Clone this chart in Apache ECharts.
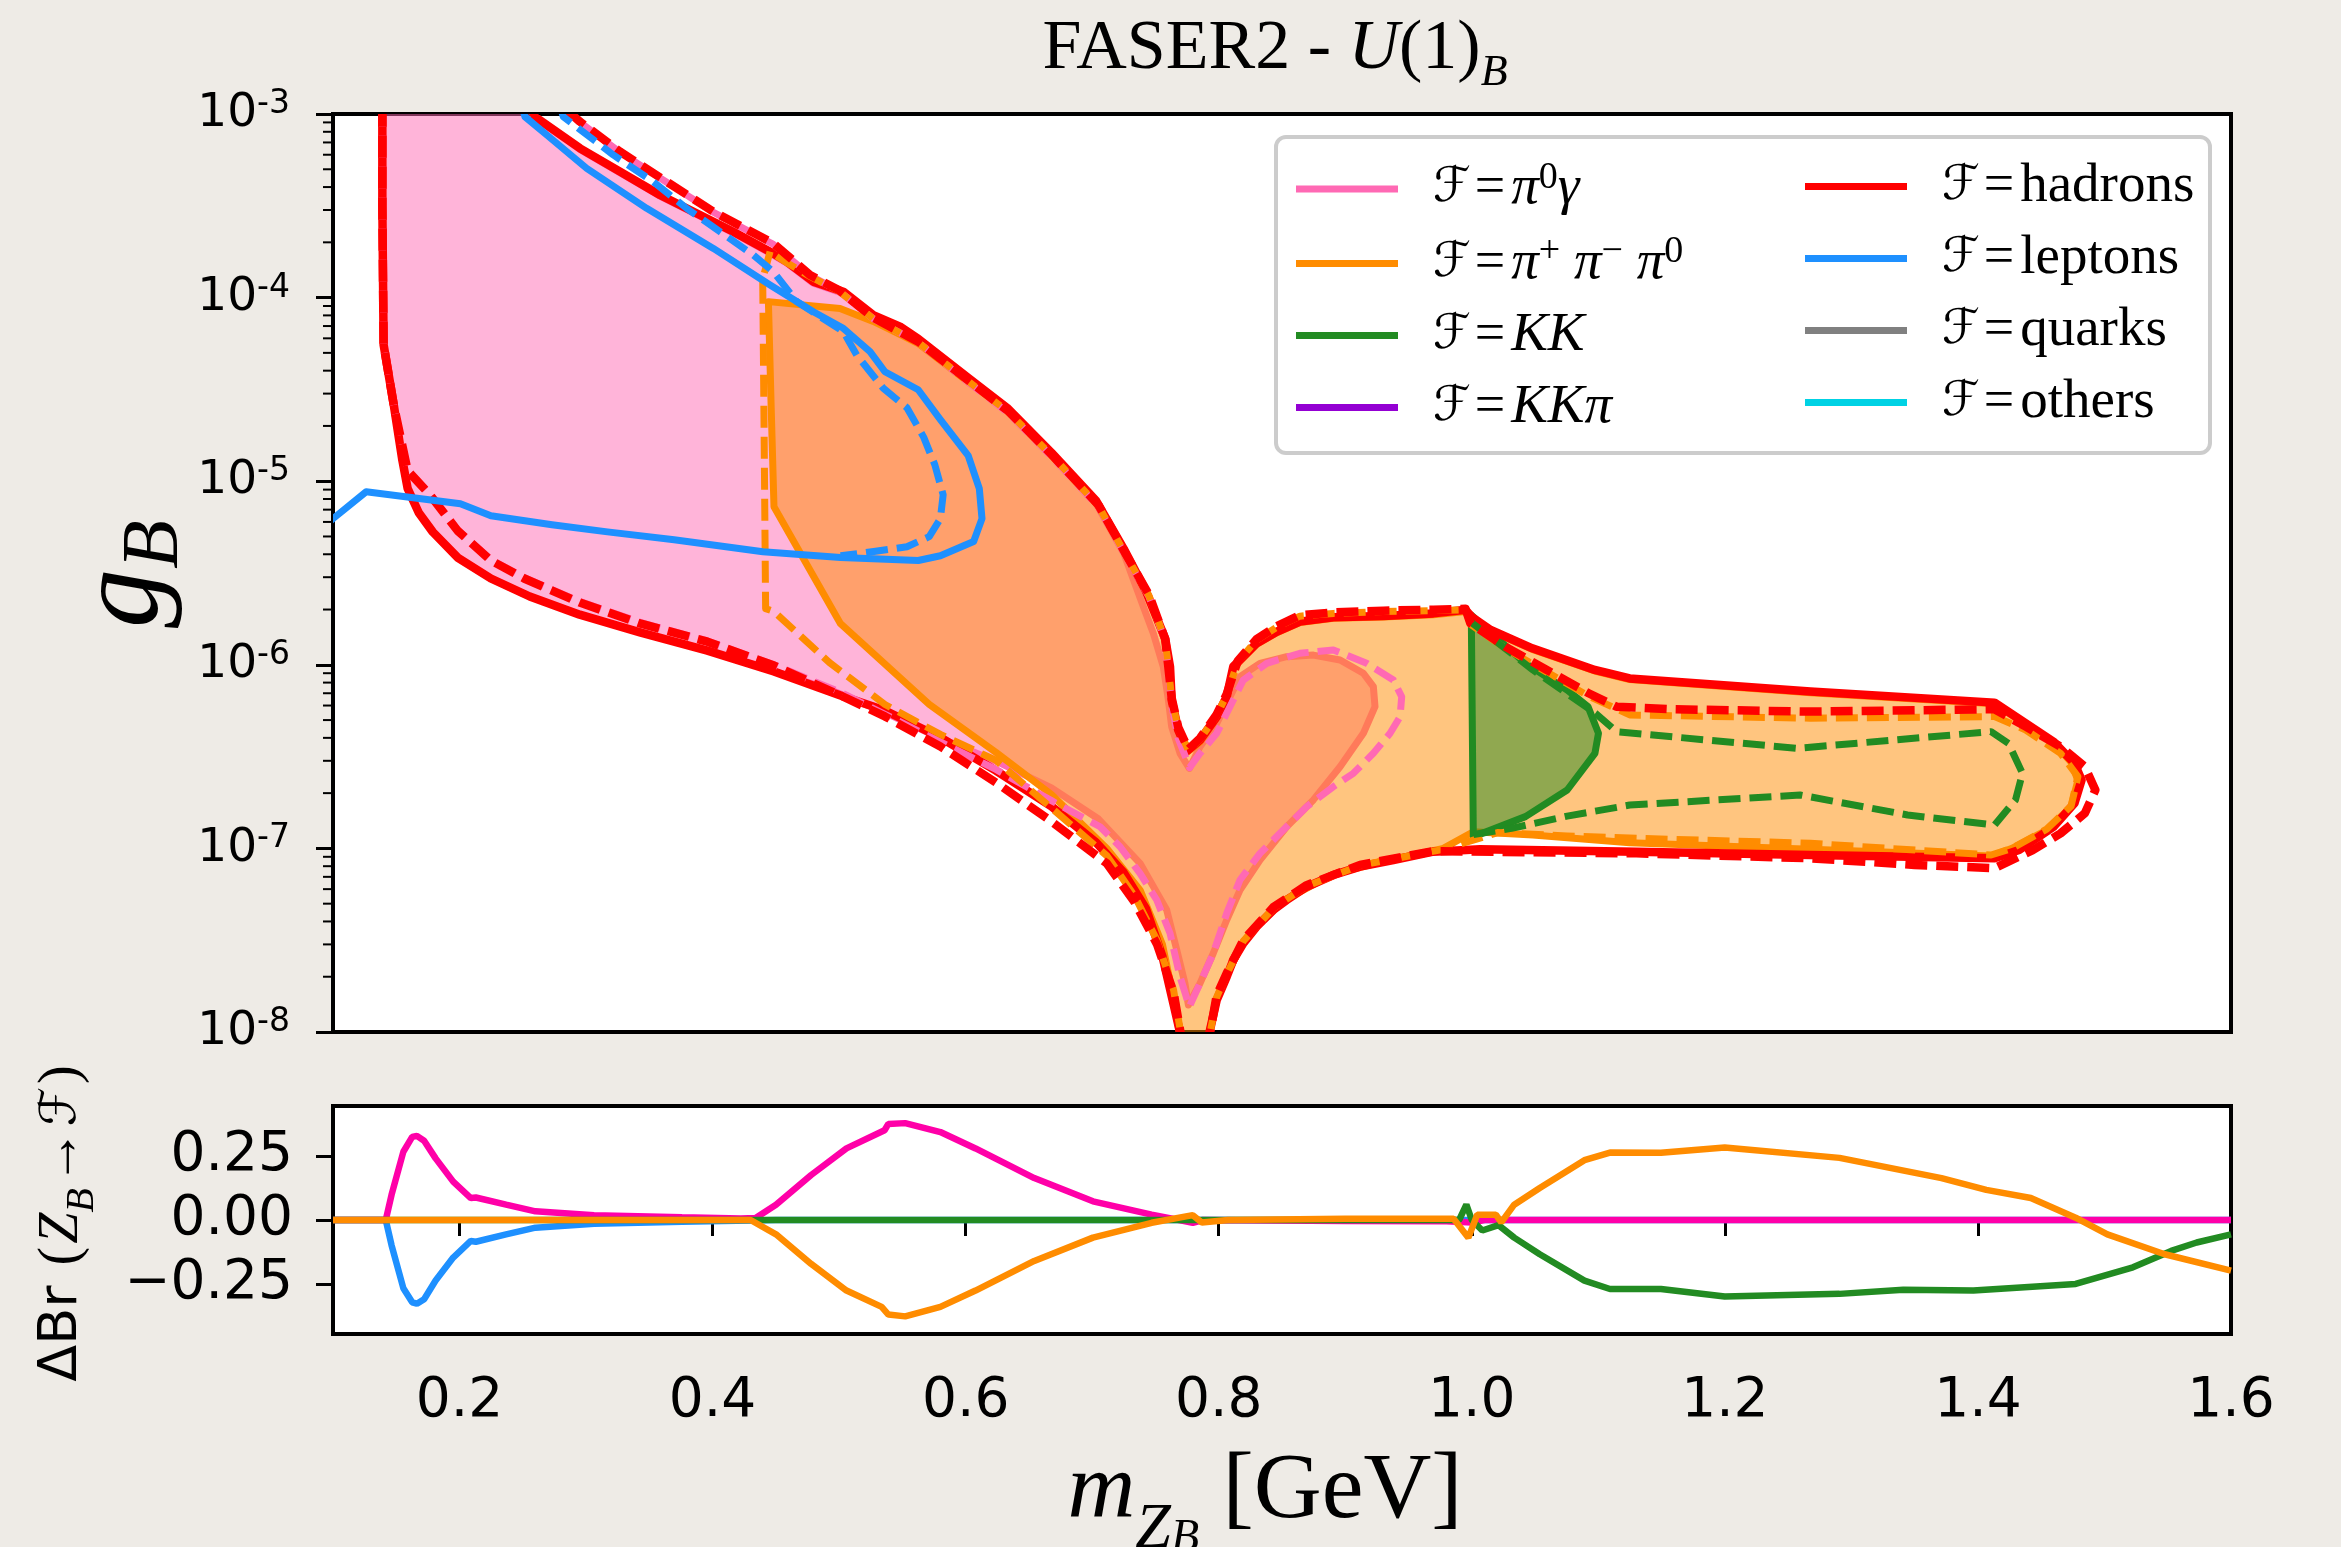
<!DOCTYPE html>
<html>
<head>
<meta charset="utf-8">
<script src="https://cdn.jsdelivr.net/npm/echarts@6.0.0/dist/echarts.min.js"></script>
<style>
html,body{margin:0;padding:0;background:#EEEBE6;}
#chart{width:2341px;height:1547px;}
</style>
</head>
<body>
<div id="chart"></div>
<script>
// ---------------- axis ticks ----------------
const massTicks = [0.2, 0.4, 0.6, 0.8, 1.0, 1.2, 1.4, 1.6];
const dBrTicks = [-0.25, 0, 0.25];

// ---------------- main panel contours: [m_ZB (GeV), log10 g_B] ----------------
const hadronsSolid = [[0.139,-2.95],[0.139,-3.5],[0.140,-4.257],[0.148,-4.584],[0.1546,-4.877],[0.159,-5.04],[0.1678,-5.172],[0.1788,-5.276],[0.1985,-5.416],[0.2248,-5.53],[0.2555,-5.628],[0.295,-5.727],[0.3433,-5.825],[0.3959,-5.923],[0.4485,-6.036],[0.5011,-6.167],[0.5362,-6.249],[0.58,-6.396],[0.6239,-6.576],[0.6678,-6.771],[0.703,-6.967],[0.7248,-7.131],[0.7424,-7.327],[0.7555,-7.588],[0.7643,-7.849],[0.771,-8.05],[0.791,-8.05],[0.7931,-7.989],[0.7984,-7.826],[0.8063,-7.699],[0.8115,-7.608],[0.8194,-7.517],[0.83,-7.426],[0.8432,-7.335],[0.8537,-7.281],[0.8695,-7.209],[0.8906,-7.145],[0.9117,-7.099],[0.938,-7.063],[0.9696,-7.018],[1.0065,-7.005],[1.13,-7.018],[1.2677,-7.036],[1.4131,-7.054],[1.4325,-7.009],[1.4598,-6.882],[1.4763,-6.754],[1.4819,-6.627],[1.4763,-6.537],[1.4598,-6.419],[1.4378,-6.319],[1.4131,-6.206],[1.2677,-6.146],[1.1248,-6.074],[1.0972,-6.028],[1.0478,-5.91],[1.0149,-5.81],[1.0,-5.74],[0.995,-5.70],[0.9696,-5.72],[0.9301,-5.734],[0.8906,-5.741],[0.8642,-5.765],[0.8458,-5.82],[0.83,-5.883],[0.8115,-6.01],[0.8063,-6.174],[0.7984,-6.283],[0.7852,-6.41],[0.7752,-6.468],[0.768,-6.355],[0.7628,-6.192],[0.7615,-6.01],[0.7577,-5.857],[0.7423,-5.596],[0.7248,-5.367],[0.703,-5.106],[0.6678,-4.845],[0.6327,-4.6],[0.602,-4.437],[0.5625,-4.224],[0.5481,-4.158],[0.527,-4.095],[0.5033,-3.968],[0.4796,-3.913],[0.4586,-3.804],[0.4454,-3.75],[0.4164,-3.641],[0.39,-3.55],[0.3584,-3.441],[0.3268,-3.314],[0.2952,-3.187],[0.2596,-3.015],[0.256,-2.95]];

const hadronsDashed = [[0.139,-2.95],[0.139,-3.5],[0.140,-4.257],[0.148,-4.584],[0.159,-4.943],[0.1766,-5.074],[0.1985,-5.27],[0.2248,-5.432],[0.2511,-5.53],[0.295,-5.661],[0.3433,-5.776],[0.3959,-5.874],[0.4485,-6.004],[0.5011,-6.167],[0.5362,-6.281],[0.58,-6.445],[0.6239,-6.641],[0.6678,-6.853],[0.7116,-7.082],[0.7336,-7.294],[0.7512,-7.522],[0.7643,-7.784],[0.771,-8.05],[0.792,-8.05],[0.7984,-7.80],[0.8063,-7.68],[0.8194,-7.50],[0.8432,-7.32],[0.8695,-7.20],[0.9117,-7.09],[0.9696,-7.015],[1.13,-7.027],[1.2677,-7.054],[1.3499,-7.09],[1.4131,-7.108],[1.4433,-7.009],[1.4653,-6.918],[1.4845,-6.809],[1.4928,-6.682],[1.4845,-6.555],[1.4653,-6.446],[1.4378,-6.337],[1.4131,-6.242],[1.2677,-6.255],[1.1582,-6.242],[1.1143,-6.228],[1.0923,-6.155],[1.0593,-6.028],[1.0264,-5.901],[0.9989,-5.774],[0.995,-5.695],[0.9696,-5.70],[0.93,-5.705],[0.8906,-5.715],[0.8642,-5.73],[0.8458,-5.79],[0.83,-5.86],[0.815,-5.98],[0.8063,-6.16],[0.7984,-6.27],[0.7852,-6.40],[0.776,-6.46],[0.768,-6.34],[0.7628,-6.18],[0.76,-6.0],[0.7577,-5.86],[0.745,-5.62],[0.726,-5.39],[0.705,-5.13],[0.67,-4.87],[0.634,-4.62],[0.6,-4.44],[0.5625,-4.24],[0.527,-4.11],[0.5,-3.96],[0.477,-3.877],[0.448,-3.705],[0.4006,-3.532],[0.3637,-3.369],[0.3268,-3.205],[0.2952,-3.042],[0.28,-2.95]];

const pi0gSolid = [[0.139,-2.95],[0.139,-3.5],[0.140,-4.257],[0.148,-4.584],[0.1546,-4.877],[0.159,-5.04],[0.1678,-5.172],[0.1788,-5.276],[0.1985,-5.416],[0.2248,-5.53],[0.2555,-5.628],[0.295,-5.727],[0.3433,-5.825],[0.3959,-5.923],[0.4485,-6.036],[0.4924,-6.134],[0.5362,-6.26],[0.58,-6.40],[0.6239,-6.525],[0.6678,-6.67],[0.705,-6.84],[0.7378,-7.081],[0.7589,-7.336],[0.7668,-7.553],[0.7733,-7.735],[0.776,-7.853],[0.7852,-7.735],[0.7957,-7.571],[0.8063,-7.39],[0.8168,-7.227],[0.8326,-7.063],[0.8537,-6.882],[0.8748,-6.736],[0.8959,-6.555],[0.9143,-6.373],[0.9235,-6.228],[0.9222,-6.119],[0.9143,-6.046],[0.8959,-5.974],[0.8748,-5.947],[0.8537,-5.956],[0.8326,-5.992],[0.8168,-6.065],[0.8089,-6.174],[0.7984,-6.319],[0.7852,-6.446],[0.7768,-6.564],[0.7694,-6.482],[0.7628,-6.337],[0.7602,-6.192],[0.7562,-6.01],[0.7483,-5.828],[0.7404,-5.683],[0.7248,-5.39],[0.703,-5.12],[0.6678,-4.86],[0.6327,-4.615],[0.602,-4.45],[0.5625,-4.235],[0.527,-4.105],[0.5033,-3.978],[0.4796,-3.922],[0.4586,-3.812],[0.4454,-3.758],[0.4164,-3.648],[0.39,-3.556],[0.3584,-3.447],[0.3268,-3.32],[0.2952,-3.193],[0.2596,-3.02],[0.255,-2.95]];

const pi0gDashed = [[0.139,-2.95],[0.139,-3.5],[0.140,-4.257],[0.148,-4.584],[0.159,-4.94],[0.1766,-5.07],[0.1985,-5.265],[0.2248,-5.427],[0.2511,-5.525],[0.295,-5.655],[0.3433,-5.77],[0.3959,-5.87],[0.4485,-6.0],[0.5011,-6.15],[0.5362,-6.27],[0.58,-6.42],[0.6239,-6.57],[0.6678,-6.74],[0.7062,-6.882],[0.722,-6.991],[0.7378,-7.136],[0.751,-7.281],[0.7615,-7.462],[0.7694,-7.699],[0.7768,-7.862],[0.7852,-7.735],[0.7957,-7.571],[0.8063,-7.354],[0.8168,-7.172],[0.8326,-7.027],[0.8484,-6.918],[0.8695,-6.773],[0.8906,-6.664],[0.9064,-6.591],[0.9222,-6.482],[0.9354,-6.373],[0.9433,-6.283],[0.9446,-6.174],[0.938,-6.083],[0.9169,-5.992],[0.8906,-5.919],[0.8642,-5.937],[0.8379,-5.992],[0.8194,-6.083],[0.8115,-6.192],[0.7984,-6.373],[0.7852,-6.482],[0.777,-6.56],[0.768,-6.40],[0.7628,-6.22],[0.76,-6.02],[0.7577,-5.87],[0.745,-5.63],[0.726,-5.40],[0.705,-5.14],[0.67,-4.88],[0.634,-4.63],[0.6,-4.45],[0.5625,-4.245],[0.527,-4.115],[0.5,-3.965],[0.477,-3.88],[0.448,-3.71],[0.4006,-3.535],[0.3637,-3.372],[0.3268,-3.208],[0.2952,-3.045],[0.28,-2.95]];

const pipipi0Solid = [[0.4441,-4.022],[0.4463,-4.6],[0.4485,-5.139],[0.5011,-5.776],[0.5712,-6.216],[0.6239,-6.477],[0.6678,-6.706],[0.7116,-7.0],[0.738,-7.229],[0.7555,-7.522],[0.7643,-7.816],[0.77,-8.05],[0.792,-8.05],[0.7931,-7.98],[0.7984,-7.82],[0.8063,-7.69],[0.8194,-7.51],[0.83,-7.42],[0.8537,-7.275],[0.8906,-7.14],[0.938,-7.058],[0.9775,-7.0],[1.0012,-6.909],[1.0483,-6.927],[1.1248,-6.969],[1.2677,-7.005],[1.4104,-7.041],[1.4269,-7.0],[1.4543,-6.9],[1.4736,-6.773],[1.479,-6.63],[1.4736,-6.53],[1.4598,-6.425],[1.4378,-6.325],[1.4131,-6.212],[1.2677,-6.152],[1.1248,-6.08],[1.0972,-6.034],[1.0478,-5.916],[1.0149,-5.816],[1.0,-5.745],[0.995,-5.71],[0.9696,-5.728],[0.9301,-5.739],[0.8906,-5.746],[0.8642,-5.77],[0.8458,-5.825],[0.83,-5.888],[0.8115,-6.015],[0.8063,-6.18],[0.7984,-6.29],[0.7852,-6.42],[0.7752,-6.475],[0.768,-6.36],[0.7628,-6.2],[0.7615,-6.015],[0.7577,-5.862],[0.7423,-5.6],[0.7248,-5.372],[0.703,-5.11],[0.6678,-4.85],[0.6327,-4.61],[0.602,-4.46],[0.5625,-4.25],[0.548,-4.2],[0.527,-4.13],[0.5007,-4.059]];

const pipipi0Dashed = [[0.4454,-3.75],[0.4396,-3.9],[0.4408,-4.8],[0.4419,-5.694],[0.4485,-5.71],[0.4924,-5.988],[0.5362,-6.216],[0.58,-6.379],[0.6239,-6.52],[0.6678,-6.78],[0.7116,-7.04],[0.7336,-7.26],[0.7512,-7.5],[0.7643,-7.77],[0.771,-8.05],[0.792,-8.05],[0.7984,-7.81],[0.8063,-7.685],[0.8194,-7.505],[0.8432,-7.325],[0.8695,-7.205],[0.9117,-7.093],[0.9775,-7.005],[1.0204,-6.914],[1.0754,-6.932],[1.1303,-6.945],[1.2677,-6.972],[1.4104,-7.036],[1.4269,-7.0],[1.4543,-6.895],[1.4736,-6.77],[1.479,-6.609],[1.4653,-6.482],[1.4378,-6.355],[1.4131,-6.282],[1.2677,-6.291],[1.1248,-6.273],[1.0923,-6.17],[1.0593,-6.04],[1.0264,-5.91],[0.999,-5.78],[0.995,-5.70],[0.9696,-5.705],[0.93,-5.71],[0.8906,-5.72],[0.8642,-5.735],[0.8458,-5.795],[0.83,-5.865],[0.815,-5.985],[0.8063,-6.165],[0.7984,-6.275],[0.7852,-6.405],[0.776,-6.465],[0.768,-6.345],[0.7628,-6.185],[0.76,-6.005],[0.7577,-5.865],[0.745,-5.625],[0.726,-5.395],[0.705,-5.135],[0.67,-4.875],[0.634,-4.625],[0.6,-4.445],[0.5625,-4.245],[0.527,-4.115],[0.5,-3.965],[0.477,-3.885],[0.4586,-3.81]];

const KKSolid = [[0.9996,-5.729],[1.0095,-5.792],[1.0424,-5.992],[1.0754,-6.137],[1.0919,-6.228],[1.1001,-6.373],[1.0973,-6.482],[1.0754,-6.682],[1.0424,-6.827],[1.0012,-6.936]];

const KKDashed = [[0.9989,-5.765],[1.0483,-6.028],[1.0978,-6.264],[1.1143,-6.364],[1.2572,-6.455],[1.4104,-6.364],[1.4242,-6.428],[1.4352,-6.591],[1.4297,-6.736],[1.4131,-6.873],[1.3444,-6.818],[1.2594,-6.709],[1.1248,-6.764],[1.0754,-6.824],[1.0314,-6.891],[0.9989,-6.927]];

const leptonsSolid = [[0.095,-5.235],[0.1,-5.204],[0.1262,-5.057],[0.2007,-5.123],[0.2248,-5.188],[0.2731,-5.237],[0.3169,-5.276],[0.3696,-5.319],[0.4398,-5.384],[0.5011,-5.416],[0.5625,-5.432],[0.58,-5.406],[0.6063,-5.328],[0.6129,-5.204],[0.6108,-5.041],[0.602,-4.861],[0.58,-4.665],[0.5625,-4.502],[0.5362,-4.404],[0.5244,-4.294],[0.5033,-4.167],[0.4796,-4.077],[0.4454,-3.931],[0.4006,-3.732],[0.3479,-3.514],[0.3005,-3.296],[0.2689,-3.114],[0.2517,-3.015],[0.249,-2.95]];

const leptonsDashed = [[0.279,-2.95],[0.282,-3.015],[0.3215,-3.223],[0.3531,-3.369],[0.3795,-3.514],[0.4058,-3.641],[0.4322,-3.768],[0.448,-3.859],[0.4665,-4.022],[0.5033,-4.185],[0.5139,-4.313],[0.5349,-4.494],[0.5536,-4.60],[0.5668,-4.76],[0.5756,-4.91],[0.5822,-5.074],[0.58,-5.204],[0.5712,-5.302],[0.5536,-5.357],[0.5274,-5.383],[0.5011,-5.406]];

// ---------------- lower panel: Delta Br(Z_B -> F) ----------------
const dBrPi0g = [[0.1,0],[0.1417,0],[0.1463,0.099],[0.1556,0.267],[0.1626,0.325],[0.1663,0.329],[0.172,0.31],[0.1811,0.241],[0.195,0.15],[0.2089,0.086],[0.2129,0.088],[0.2368,0.06],[0.26,0.034],[0.3063,0.019],[0.3758,0.011],[0.4223,0.006],[0.434,0.008],[0.4501,0.06],[0.4779,0.176],[0.5058,0.28],[0.5359,0.351],[0.5389,0.376],[0.5522,0.379],[0.58,0.344],[0.6078,0.28],[0.6542,0.164],[0.7006,0.073],[0.747,0.021],[0.7795,-0.011],[0.7875,0.0],[0.9,-0.004],[0.98,-0.005],[1.0,-0.01],[1.01,0],[1.6,0]];
const dBrLeptons = [[0.1,0],[0.1417,0],[0.1463,-0.099],[0.1556,-0.267],[0.1626,-0.322],[0.1663,-0.3275],[0.172,-0.31],[0.1811,-0.237],[0.195,-0.147],[0.2089,-0.082],[0.2129,-0.085],[0.2368,-0.056],[0.26,-0.03],[0.3063,-0.015],[0.3758,-0.007],[0.43,-0.002],[0.45,0],[1.6,0]];
const dBrKK = [[0.1,0],[0.43,0],[0.98,0],[0.99,0.0],[0.9957,0.06],[1.0,0.0],[1.0083,-0.041],[1.0211,-0.02],[1.0335,-0.069],[1.0537,-0.134],[1.089,-0.237],[1.1092,-0.27],[1.1495,-0.27],[1.1999,-0.299],[1.2906,-0.289],[1.341,-0.273],[1.3964,-0.276],[1.4772,-0.25],[1.5225,-0.185],[1.5527,-0.121],[1.5729,-0.088],[1.6,-0.056]];
const dBrPipipi0 = [[0.1,0],[0.43,0],[0.4501,-0.056],[0.4779,-0.172],[0.5058,-0.276],[0.5336,-0.34],[0.5389,-0.37],[0.5522,-0.377],[0.58,-0.34],[0.6078,-0.276],[0.6542,-0.16],[0.7006,-0.069],[0.747,-0.011],[0.7795,0.019],[0.7866,-0.01],[0.8073,0.0],[0.9,0.005],[0.9856,0.005],[0.9973,-0.069],[1.0043,0.021],[1.019,0.021],[1.0233,-0.009],[1.0335,0.06],[1.0537,0.125],[1.089,0.234],[1.1092,0.264],[1.1495,0.263],[1.1999,0.284],[1.2906,0.243],[1.3712,0.164],[1.4066,0.118],[1.4418,0.086],[1.4772,0.009],[1.5023,-0.056],[1.5476,-0.134],[1.6,-0.198]];

// ---------------- legend ----------------
const legendLeft = ['pi0g', 'pipipi0', 'KK', 'KKpi'];
const legendRight = ['hadrons', 'leptons', 'quarks', 'others'];
const legendLabels = {
  pi0g: '{f|ℱ}{eq|=}{m|π}{sup|0}{m|γ}',
  pipipi0: '{f|ℱ}{eq|=}{m|π}{sup|+}{m| π}{sup|−}{m| π}{sup|0}',
  KK: '{f|ℱ}{eq|=}{m|KK}',
  KKpi: '{f|ℱ}{eq|=}{m|KKπ}',
  hadrons: '{f|ℱ}{eq|=}{r|hadrons}',
  leptons: '{f|ℱ}{eq|=}{r|leptons}',
  quarks: '{f|ℱ}{eq|=}{r|quarks}',
  others: '{f|ℱ}{eq|=}{r|others}'
};
const channelColors = {
  pi0g: '#FF69B4', pipipi0: '#FF8C00', KK: '#228B22', KKpi: '#9400D3',
  hadrons: '#FF0000', leptons: '#1E90FF', quarks: '#808080', others: '#00D2E4'
};

// ---------------- build ----------------
const chart = echarts.init(document.getElementById('chart'), null, {renderer: 'canvas', width: 2341, height: 1547});

const toG = p => [p[0], Math.pow(10, p[1])];

function contour(pts, o) {
  const data = pts.map(toG);
  return {
    type: 'custom', coordinateSystem: 'cartesian2d', xAxisIndex: 0, yAxisIndex: 0,
    clip: true, silent: true, z: 2,
    encode: {x: 0, y: 1},
    data: data,
    renderItem: function (params, api) {
      if (params.dataIndex !== 0) return null;
      const points = data.map(d => api.coord(d));
      return {
        type: o.closed ? 'polygon' : 'polyline',
        shape: {points: points},
        style: {
          fill: o.fill || null,
          stroke: o.stroke,
          lineWidth: o.lw,
          lineDash: o.dash || null,
          lineJoin: 'round',
          lineCap: 'butt'
        }
      };
    }
  };
}

const DASH = [22, 9];
const LW = 7, LWR = 8.5;
const minorTickValues = [];
for (let e = -8; e < -3; e++) for (let k = 2; k <= 9; k++) minorTickValues.push(k * Math.pow(10, e));

const series = [
  contour(pi0gSolid, {closed: true, fill: 'rgba(255,105,180,0.5)', stroke: '#FF69B4', lw: LW}),
  contour(pipipi0Solid, {closed: true, fill: 'rgba(255,140,0,0.5)', stroke: '#FF8C00', lw: LW}),
  contour(KKSolid, {closed: true, fill: 'rgba(34,139,34,0.5)', stroke: '#228B22', lw: LW}),
  contour(hadronsSolid, {closed: true, stroke: '#FF0000', lw: LWR}),
  contour(pi0gDashed, {closed: true, stroke: '#FF69B4', lw: LW, dash: DASH}),
  contour(pipipi0Dashed, {closed: true, stroke: '#FF8C00', lw: LW, dash: DASH}),
  contour(KKDashed, {closed: false, stroke: '#228B22', lw: LW, dash: DASH}),
  contour(hadronsDashed, {closed: true, stroke: '#FF0000', lw: LWR, dash: DASH}),
  contour(leptonsSolid, {closed: false, stroke: '#1E90FF', lw: LW}),
  contour(leptonsDashed, {closed: false, stroke: '#1E90FF', lw: LW, dash: DASH}),
  {
    type: 'custom', coordinateSystem: 'cartesian2d', xAxisIndex: 0, yAxisIndex: 0,
    clip: false, silent: true, z: 5, encode: {x: 0, y: 1},
    data: minorTickValues.map(v => [0.1, v]),
    renderItem: function (params, api) {
      const p = api.coord([api.value(0), api.value(1)]);
      return {type: 'line', shape: {x1: p[0] - 1, y1: p[1], x2: p[0] - 10, y2: p[1]}, style: {stroke: '#000', lineWidth: 2}};
    }
  }
];

function brLine(data, color) {
  return {type: 'line', xAxisIndex: 1, yAxisIndex: 1, data: data, showSymbol: false, symbol: 'none',
    lineStyle: {color: color, width: 6.5}, itemStyle: {color: color}, clip: true, silent: true, z: 2};
}
series.push(brLine(dBrLeptons, '#1E90FF'));
series.push(brLine(dBrPi0g, '#FF00A8'));
series.push(brLine(dBrKK, '#228B22'));
series.push(brLine(dBrPipipi0, '#FF8C00'));

// legend proxies
legendLeft.concat(legendRight).forEach(n => {
  series.push({type: 'line', name: n, xAxisIndex: 0, yAxisIndex: 0, data: [],
    itemStyle: {color: channelColors[n]}, lineStyle: {color: channelColors[n]}});
});

const legendRich = {
  f: {fontFamily: 'DejaVu Sans', fontSize: 48, lineHeight: 60, verticalAlign: 'middle', padding: [0, 0, 0, 30], color: '#000'},
  eq: {fontFamily: 'Liberation Serif', fontSize: 54, lineHeight: 60, verticalAlign: 'middle', padding: [0, 6, 0, 4], color: '#000'},
  m: {fontFamily: 'Liberation Serif', fontStyle: 'italic', fontSize: 55, lineHeight: 60, verticalAlign: 'middle', color: '#000'},
  r: {fontFamily: 'Liberation Serif', fontSize: 55, lineHeight: 60, verticalAlign: 'middle', color: '#000'},
  sup: {fontFamily: 'Liberation Serif', fontSize: 38, lineHeight: 30, verticalAlign: 'top', color: '#000'}
};
function mkLegend(names, left) {
  return {
    data: names, left: left, top: 154, orient: 'vertical', icon: 'rect',
    itemWidth: 102, itemHeight: 7, itemGap: 17, selectedMode: false, z: 10,
    formatter: n => legendLabels[n],
    textStyle: {rich: legendRich, color: '#000'}
  };
}

const option = {
  animation: false,
  backgroundColor: '#EEEBE6',
  title: {
    text: '{r|FASER2 - }{i|U}{r|(1)}{sub|B}',
    left: 1270, top: 0, textAlign: 'center',
    textStyle: {fontWeight: 'normal', rich: {
      r: {fontFamily: 'Liberation Serif', fontWeight: 'normal', fontSize: 70, lineHeight: 90, verticalAlign: 'middle', color: '#000'},
      i: {fontFamily: 'Liberation Serif', fontWeight: 'normal', fontStyle: 'italic', fontSize: 70, lineHeight: 90, verticalAlign: 'middle', color: '#000'},
      sub: {fontFamily: 'Liberation Serif', fontWeight: 'normal', fontStyle: 'italic', fontSize: 44, lineHeight: 58, verticalAlign: 'bottom', color: '#000'}
    }}
  },
  grid: [
    {left: 333, top: 114, width: 1898, height: 918, show: true, backgroundColor: '#FFFFFF', borderColor: '#000', borderWidth: 4, containLabel: false},
    {left: 333, top: 1106, width: 1898, height: 228, show: true, backgroundColor: '#FFFFFF', borderColor: '#000', borderWidth: 4, containLabel: false}
  ],
  xAxis: [
    {gridIndex: 0, type: 'value', min: 0.1, max: 1.6, axisLine: {show: false}, axisTick: {show: false}, axisLabel: {show: false}, splitLine: {show: false}},
    {gridIndex: 1, type: 'value', min: 0.1, max: 1.6, axisLine: {show: false},
      axisTick: {show: true, customValues: massTicks, length: 16, lineStyle: {color: '#000', width: 3}},
      axisLabel: {show: true, customValues: massTicks, margin: 40, fontFamily: 'DejaVu Sans', fontSize: 55, color: '#000', formatter: v => v.toFixed(1)},
      splitLine: {show: false}}
  ],
  yAxis: [
    {gridIndex: 0, type: 'log', logBase: 10, min: 1e-8, max: 1e-3, splitNumber: 5,
      axisLine: {show: false},
      axisTick: {show: true, length: 17, lineStyle: {color: '#000', width: 3}},
      axisLabel: {show: true, margin: 43, color: '#000',
        formatter: v => '{b|10}{s|' + String(Math.round(Math.log10(v))) + '}',
        rich: {
          b: {fontFamily: 'DejaVu Sans', fontSize: 47, lineHeight: 52, verticalAlign: 'middle', color: '#000'},
          s: {fontFamily: 'DejaVu Sans', fontSize: 33, lineHeight: 26, verticalAlign: 'top', color: '#000'}
        }},
      splitLine: {show: false}, minorTick: {show: false}},
    {gridIndex: 1, type: 'value', min: -0.446, max: 0.446, axisLine: {show: false},
      axisTick: {show: true, customValues: dBrTicks, length: 17, lineStyle: {color: '#000', width: 3}},
      axisLabel: {show: true, customValues: dBrTicks, margin: 40, fontFamily: 'DejaVu Sans', fontSize: 55, color: '#000',
        formatter: v => (v < 0 ? '\u2212' : '') + Math.abs(v).toFixed(2)},
      splitLine: {show: false}}
  ],
  legend: [mkLegend(legendLeft, 1291), mkLegend(legendRight, 1800)],
  graphic: [
    {type: 'rect', z: 8, shape: {x: 1276, y: 137, width: 934, height: 316, r: 10},
      style: {fill: 'rgba(255,255,255,0.85)', stroke: '#CCCCCC', lineWidth: 4}},
    {type: 'text', z: 10, x: 126, y: 574, rotation: Math.PI / 2,
      style: {text: '{g|g}{sub|B}', align: 'center', verticalAlign: 'middle',
        rich: {
          g: {fontFamily: 'Liberation Serif', fontStyle: 'italic', fontSize: 118, lineHeight: 140, verticalAlign: 'middle', fill: '#000'},
          sub: {fontFamily: 'Liberation Serif', fontStyle: 'italic', fontSize: 80, lineHeight: 90, verticalAlign: 'bottom', fill: '#000'}
        }}},
    {type: 'text', z: 10, x: 62, y: 1222, rotation: Math.PI / 2,
      style: {text: '{s|ΔBr }{m|(}{i|Z}{sub|B}{m|→}{f|ℱ}{m|)}', align: 'center', verticalAlign: 'middle',
        rich: {
          s: {fontFamily: 'DejaVu Sans', fontSize: 54, lineHeight: 80, verticalAlign: 'middle', fill: '#000'},
          m: {fontFamily: 'Liberation Serif', fontSize: 56, lineHeight: 80, verticalAlign: 'middle', fill: '#000', padding: [0, 3, 0, 3]},
          i: {fontFamily: 'Liberation Serif', fontStyle: 'italic', fontSize: 56, lineHeight: 80, verticalAlign: 'middle', fill: '#000'},
          sub: {fontFamily: 'Liberation Serif', fontStyle: 'italic', fontSize: 40, lineHeight: 56, verticalAlign: 'bottom', fill: '#000'},
          f: {fontFamily: 'DejaVu Sans', fontSize: 50, lineHeight: 80, verticalAlign: 'middle', fill: '#000'}
        }}},
    {type: 'text', z: 10, x: 1265, y: 1492,
      style: {text: '{i|m}{sub|Z}{subsub|B}{r| [GeV]}', align: 'center', verticalAlign: 'middle',
        rich: {
          i: {fontFamily: 'Liberation Serif', fontStyle: 'italic', fontSize: 94, lineHeight: 140, verticalAlign: 'middle', fill: '#000'},
          sub: {fontFamily: 'Liberation Serif', fontStyle: 'italic', fontSize: 64, lineHeight: 97, verticalAlign: 'bottom', fill: '#000'},
          subsub: {fontFamily: 'Liberation Serif', fontStyle: 'italic', fontSize: 46, lineHeight: 64, verticalAlign: 'bottom', fill: '#000'},
          r: {fontFamily: 'Liberation Serif', fontSize: 94, lineHeight: 140, verticalAlign: 'middle', fill: '#000'}
        }}}
  ],
  series: series
};
chart.setOption(option);
</script>
</body>
</html>
